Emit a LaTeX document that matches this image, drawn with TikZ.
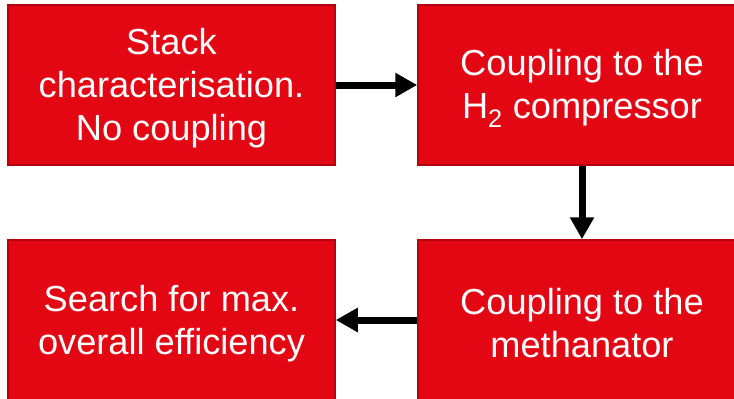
\documentclass[tikz,border=0pt]{standalone}
\usepackage{fontspec}
\setmainfont{Liberation Sans}
\usetikzlibrary{arrows.meta}
\definecolor{boxred}{RGB}{227,6,19}
\definecolor{boxedge}{RGB}{178,4,16}
\tikzset{
  redbox/.style={draw=boxedge, line width=1.5pt, fill=boxred,
    minimum width=327pt, minimum height=160pt, inner sep=0pt},
  boxtext/.style={text=white, inner sep=0pt, align=center,
    font=\fontsize{36.2}{43}\selectfont},
  flowarrow/.style={line width=7pt, -{Triangle[length=22pt,width=23pt]}, black}
}
\begin{document}
\begin{tikzpicture}[x=1pt,y=-1pt]
\useasboundingbox (0,0) rectangle (734,399);
\begin{scope}
\clip (0,0) rectangle (734,399);
\node[redbox] (a) at (171.5,85) {};
\node[redbox, minimum width=328pt] (b) at (582,85) {};
\node[redbox, minimum width=328pt] (c) at (582,320) {};
\node[redbox] (d) at (171.5,320) {};
\end{scope}
\node[boxtext] (at) at ([yshift=-3.5pt]a.center) {Stack\\characterisation.\\No coupling};
\node[boxtext] (bt) at ([yshift=-3.5pt]b.center) {Coupling to the\\H\textsubscript{2} compressor};
\node[boxtext] (ct) at ([yshift=-3.5pt]c.center) {Coupling to the\\methanator};
\node[boxtext] (dt) at ([yshift=-3.5pt]d.center) {Search for max.\\overall efficiency};
\draw[flowarrow] (a.east) -- (b.west);
\draw[flowarrow] (b.south) -- (c.north);
\draw[flowarrow] (c.west) -- (d.east);
\end{tikzpicture}
\end{document}
